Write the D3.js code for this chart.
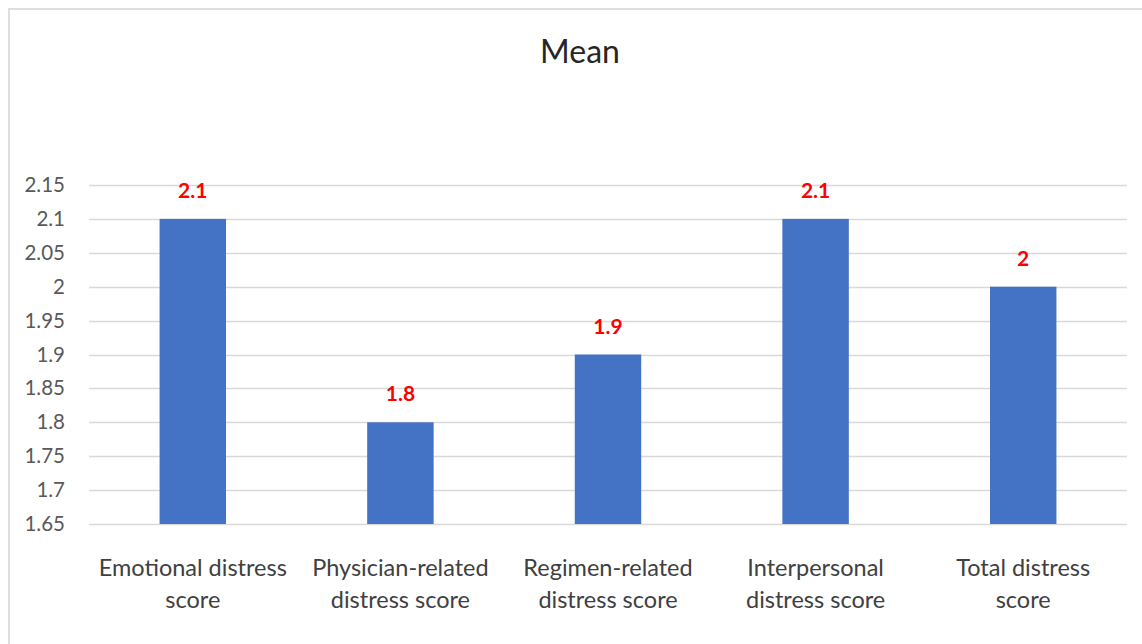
<!DOCTYPE html>
<html>
<head>
<meta charset="utf-8">
<script src="https://cdn.jsdelivr.net/npm/d3@7"></script>
<style>
  html, body { margin: 0; padding: 0; background: #fff; }
  svg { display: block; }
</style>
</head>
<body>
<svg id="chart" width="1142" height="644"></svg>
<script>
// Mean distress scores by domain
const categories = [
  ["Emotional distress", "score"],
  ["Physician-related", "distress score"],
  ["Regimen-related", "distress score"],
  ["Interpersonal", "distress score"],
  ["Total distress", "score"]
];
const values = [2.1, 1.8, 1.9, 2.1, 2.0];
const valueLabels = ["2.1", "1.8", "1.9", "2.1", "2"];
const yTicks = [1.65, 1.7, 1.75, 1.8, 1.85, 1.9, 1.95, 2, 2.05, 2.1, 2.15];
const yTickLabels = ["1.65", "1.7", "1.75", "1.8", "1.85", "1.9", "1.95", "2", "2.05", "2.1", "2.15"];
const chartTitle = "Mean";

const svg = d3.select("#chart");
const font = "Lato, 'Open Sans', sans-serif";

// chart area frame (only top and left edges fall inside the canvas)
svg.append("rect")
  .attr("x", 9).attr("y", 9)
  .attr("width", 1200).attr("height", 700)
  .attr("fill", "#fff")
  .attr("stroke", "#dedede")
  .attr("stroke-width", 2);

const plot = { left: 89, right: 1127, top: 185, bottom: 524 };

const x = d3.scaleBand()
  .domain(d3.range(values.length))
  .range([plot.left, plot.right])
  .paddingInner(0.68)
  .paddingOuter(0.34);

const y = d3.scaleLinear()
  .domain([1.65, 2.15])
  .range([plot.bottom, plot.top]);

// title
svg.append("text")
  .attr("x", 580)
  .attr("y", 63)
  .attr("text-anchor", "middle")
  .attr("font-family", font)
  .attr("font-size", 32)
  .attr("fill", "#262626")
  .text(chartTitle);

// horizontal gridlines
svg.append("g")
  .selectAll("line")
  .data(yTicks)
  .join("line")
  .attr("x1", plot.left).attr("x2", plot.right)
  .attr("y1", d => Math.round(y(d)) + 0.5)
  .attr("y2", d => Math.round(y(d)) + 0.5)
  .attr("stroke", "#d9d9d9")
  .attr("stroke-width", 1.5);

// y axis labels
const yAxis = d3.axisLeft(y)
  .tickValues(yTicks)
  .tickFormat((d, i) => yTickLabels[i])
  .tickSize(0)
  .tickPadding(0);

const yg = svg.append("g")
  .attr("transform", `translate(65,0)`)
  .call(yAxis);
yg.select(".domain").remove();
yg.selectAll("text")
  .attr("font-family", font)
  .attr("font-size", 20.5)
  .attr("fill", "#595959");

// bars
svg.append("g")
  .selectAll("rect")
  .data(values)
  .join("rect")
  .attr("x", (d, i) => x(i))
  .attr("width", x.bandwidth())
  .attr("y", d => y(d))
  .attr("height", d => y(1.65) - y(d))
  .attr("fill", "#4472C4");

// value labels
svg.append("g")
  .selectAll("text")
  .data(values)
  .join("text")
  .attr("x", (d, i) => x(i) + x.bandwidth() / 2)
  .attr("y", d => y(d) - 21)
  .attr("text-anchor", "middle")
  .attr("font-family", font)
  .attr("font-weight", "bold")
  .attr("font-size", 21)
  .attr("fill", "#FF0000")
  .text((d, i) => valueLabels[i]);

// category labels
const cat = svg.append("g")
  .selectAll("text")
  .data(categories)
  .join("text")
  .attr("text-anchor", "middle")
  .attr("font-family", font)
  .attr("font-size", 23.5)
  .attr("fill", "#404040");
cat.each(function(lines, i) {
  const t = d3.select(this);
  lines.forEach((line, j) => {
    t.append("tspan")
      .attr("x", x(i) + x.bandwidth() / 2)
      .attr("y", 576 + j * 32)
      .text(line);
  });
});
</script>
</body>
</html>
